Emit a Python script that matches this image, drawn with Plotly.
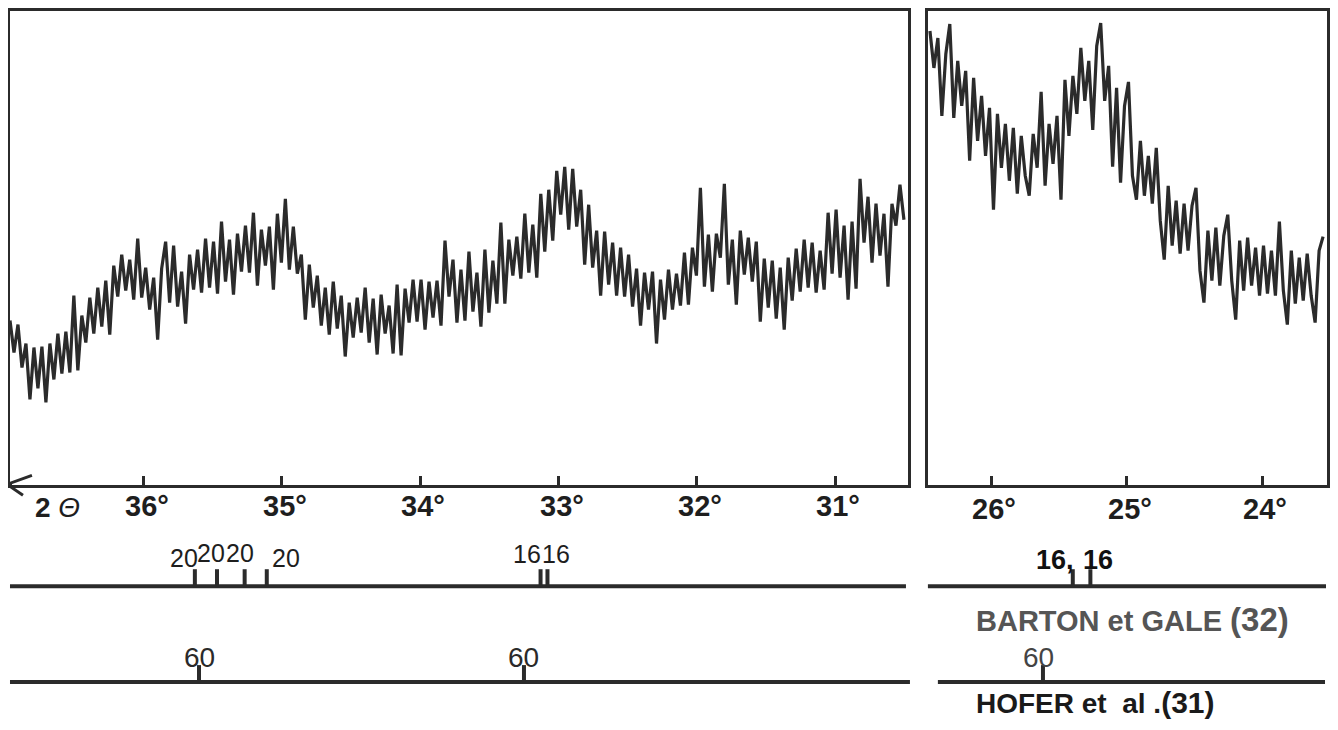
import numpy as np
import plotly.graph_objects as go

# ---------------- data ----------------
# 2-theta scan limits (degrees) of each panel
scan_left_start, scan_left_end = 36.967, 30.502
scan_right_start, scan_right_end = 26.454, 23.553

# intensity (arbitrary units), left panel (37° -> 30.5°)
intensity_left = [
    165, 133, 161, 118, 142, 86, 138, 97, 139, 83,
    142, 106, 152, 112, 154, 113, 190, 115, 170, 143,
    188, 152, 198, 159, 205, 151, 220, 189, 231, 195,
    226, 186, 247, 188, 218, 176, 208, 146, 217, 244,
    183, 240, 179, 214, 162, 231, 196, 236, 193, 247,
    198, 244, 192, 264, 204, 246, 191, 252, 214, 260,
    213, 273, 200, 256, 220, 259, 196, 272, 223, 287,
    216, 259, 212, 231, 166, 221, 178, 210, 160, 198,
    151, 204, 157, 190, 129, 183, 148, 188, 153, 198,
    143, 187, 131, 191, 152, 180, 132, 201, 130, 197,
    163, 206, 164, 206, 156, 204, 168, 205, 160, 245,
    189, 226, 163, 216, 165, 234, 174, 213, 159, 236,
    173, 225, 182, 263, 182, 246, 210, 249, 207, 272,
    213, 261, 208, 292, 234, 296, 245, 315, 271, 319,
    256, 317, 259, 296, 221, 281, 218, 255, 190, 254,
    201, 243, 190, 238, 189, 231, 179, 217, 160, 213,
    176, 214, 142, 206, 166, 216, 176, 212, 180, 233,
    181, 238, 210, 298, 199, 251, 194, 252, 228, 302,
    201, 246, 181, 255, 211, 248, 204, 244, 164, 227,
    178, 225, 167, 218, 156, 228, 185, 237, 194, 246,
    198, 243, 193, 235, 196, 273, 212, 276, 208, 260,
    186, 264, 197, 307, 243, 289, 223, 282, 230, 272,
    199, 282, 260, 301, 266,
]

# intensity, right panel (26.5° -> 23.5°)
intensity_right = [
    455, 418, 448, 370, 432, 462, 368, 425, 380, 415,
    325, 408, 345, 390, 330, 378, 276, 372, 318, 362,
    305, 358, 292, 350, 310, 290, 352, 318, 394, 300,
    362, 322, 370, 286, 406, 350, 410, 372, 438, 385,
    425, 356, 440, 463, 385, 420, 319, 398, 303, 380,
    404, 310, 286, 345, 290, 330, 282, 338, 265, 226,
    300, 240, 285, 232, 282, 235, 280, 298, 215, 183,
    255, 205, 258, 200, 250, 271, 205, 166, 245, 195,
    248, 200, 238, 190, 240, 192, 235, 190, 264, 195,
    161, 235, 182, 228, 185, 232, 190, 163, 235, 249,
]

# axis ranges and ticks
range_left = [36.967, 30.473]
range_right = [26.469, 23.524]
ticks_left = [36, 35, 34, 33, 32, 31]
ticks_right = [26, 25, 24]
tick_text_left = [f"{t}°" for t in ticks_left]
tick_text_right = [f"{t}°" for t in ticks_right]

# reference patterns: positions (2θ) and relative intensities
barton_left_pos = [35.63, 35.47, 35.27, 35.11, 33.13, 33.08]
barton_left_int = ["20", "20", "20", "20", "16", "16"]
barton_right_pos = [25.40, 25.27]
barton_right_int = ["16,", "16"]
hofer_left_pos = [35.60, 33.25]
hofer_left_int = ["60", "60"]
hofer_right_pos = [25.62]
hofer_right_int = ["60"]

# ---------------- layout helpers ----------------
# the page body has an 8px margin; figure sized so the page is exactly 1338x730
OFF = 8
FW, FH = 1322, 714


def px(x):
    return (x - OFF) / FW


def py(y):
    return 1 - (y - OFF) / FH


INK = "#2b2b2b"
FONT = "Liberation Sans, Arial, sans-serif"

x_left = np.linspace(scan_left_start, scan_left_end, len(intensity_left))
x_right = np.linspace(scan_right_start, scan_right_end, len(intensity_right))

fig = go.Figure()
fig.add_trace(go.Scatter(x=x_left, y=intensity_left, mode="lines",
                         line=dict(color=INK, width=3.2), xaxis="x", yaxis="y",
                         showlegend=False, hoverinfo="skip"))
fig.add_trace(go.Scatter(x=x_right, y=intensity_right, mode="lines",
                         line=dict(color=INK, width=3.2), xaxis="x2", yaxis="y2",
                         showlegend=False, hoverinfo="skip"))

y_dom = [py(485), py(10)]
common_x = dict(showgrid=False, zeroline=False, showline=True, mirror=True,
                linecolor=INK, linewidth=3, ticks="inside", ticklen=9,
                tickwidth=2.5, tickcolor=INK, showticklabels=False)
common_y = dict(showgrid=False, zeroline=False, showline=True, mirror=True,
                linecolor=INK, linewidth=3, ticks="", showticklabels=False,
                range=[0, 475])

fig.update_layout(
    width=FW, height=FH,
    margin=dict(l=0, r=0, t=0, b=0),
    paper_bgcolor="white", plot_bgcolor="white",
    xaxis=dict(common_x, domain=[px(10), px(910)], range=range_left,
               tickvals=ticks_left, anchor="y"),
    yaxis=dict(common_y, domain=y_dom, anchor="x"),
    xaxis2=dict(common_x, domain=[px(930), px(1330)], range=range_right,
                tickvals=ticks_right, anchor="y2"),
    yaxis2=dict(common_y, domain=y_dom, anchor="x2"),
)

shapes = []
annotations = []

# tick labels (placed on the axes' own data coordinates)
for ticks, texts, xref, ly in [(ticks_left, tick_text_left, "x", 506),
                               (ticks_right, tick_text_right, "x2", 509)]:
    for t, txt in zip(ticks, texts):
        annotations.append(dict(text=txt, x=t, xref=xref, y=py(ly), yref="paper",
                                xanchor="center", yanchor="middle", xshift=3,
                                showarrow=False,
                                font=dict(family=FONT, size=29, color="#1e1e1e",
                                          weight="bold")))

# arrow at the start of the 2θ axis
shapes.append(dict(type="path", xref="paper", yref="paper",
                   path=f"M {px(32)},{py(475)} L {px(7)},{py(484)} L {px(23)},{py(495)}",
                   line=dict(color=INK, width=3)))
shapes.append(dict(type="line", xref="paper", yref="paper",
                   x0=px(7), x1=px(12), y0=py(485), y1=py(485),
                   line=dict(color=INK, width=3)))

# reference baselines
BAR_Y, HOF_Y = 586, 682
for x0, x1, yy in [(10, 908, BAR_Y), (930, 1329, BAR_Y), (10, 912, HOF_Y), (940, 1328, HOF_Y)]:
    shapes.append(dict(type="line", xref="paper", yref="paper",
                       x0=px(x0), x1=px(x1), y0=py(yy), y1=py(yy),
                       line=dict(color=INK, width=4)))


def add_marks(positions, labels, xref, base_y, shifts, label_y, color, size, bold=False):
    for pos, lab, sh, ly in zip(positions, labels, shifts, label_y):
        shapes.append(dict(type="line", xref=xref, yref="paper",
                           x0=pos, x1=pos, y0=py(base_y), y1=py(base_y - 17),
                           line=dict(color=INK, width=4)))
        annotations.append(dict(text=lab, x=pos, xref=xref, xshift=sh,
                                y=py(ly), yref="paper", showarrow=False,
                                xanchor="center", yanchor="middle",
                                font=dict(family=FONT, size=size, color=color,
                                          weight="bold" if bold else "normal")))


add_marks(barton_left_pos, barton_left_int, "x", BAR_Y,
          [-11, -6, -5, 19, -14, 9], [558, 553, 553, 558, 554, 554], "#1e1e1e", 25)
add_marks(barton_right_pos, barton_right_int, "x2", BAR_Y,
          [-18, 8], [560, 560], "#111", 27, bold=True)
add_marks(hofer_left_pos, hofer_left_int, "x", HOF_Y,
          [0, 0], [657, 657], "#2a2a2a", 28)
add_marks(hofer_right_pos, hofer_right_int, "x2", HOF_Y,
          [-4], [657], "#444", 28)

annotations.append(dict(text="<b>2</b> <i>Θ</i>", x=px(33), y=py(507), xref="paper",
                        yref="paper", xanchor="left", yanchor="middle", showarrow=False,
                        font=dict(family=FONT, size=28, color="#1e1e1e")))
annotations.append(dict(text="BARTON et GALE <span style='font-size:33px'>(32)</span>",
                        x=px(976), y=py(619), xref="paper", yref="paper",
                        xanchor="left", yanchor="middle", showarrow=False,
                        font=dict(family=FONT, size=29, color="#555", weight="bold")))
annotations.append(dict(text="HOFER et  al .<span style='font-size:30px'>(31)</span>",
                        x=px(976), y=py(702), xref="paper", yref="paper",
                        xanchor="left", yanchor="middle", showarrow=False,
                        font=dict(family=FONT, size=28, color="#1a1a1a", weight="bold")))

fig.update_layout(shapes=shapes, annotations=annotations)
fig.write_html("out.html")
